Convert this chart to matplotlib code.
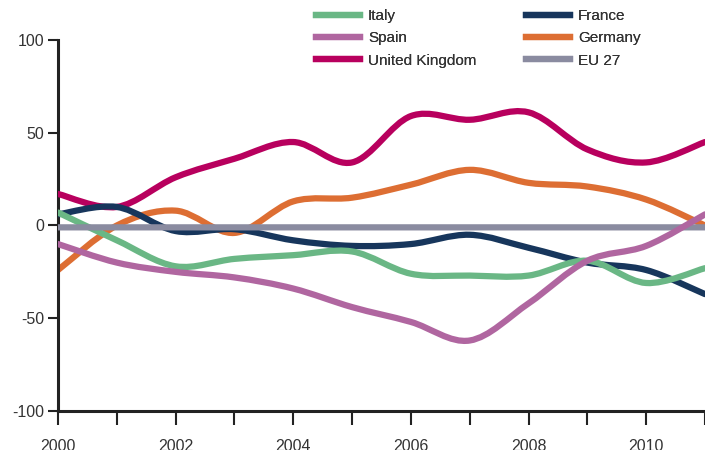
import numpy as np
import matplotlib
matplotlib.use("Agg")
import matplotlib.pyplot as plt
from matplotlib.path import Path
from matplotlib.patches import PathPatch
from matplotlib.lines import Line2D

plt.rcParams['font.family'] = ['Liberation Sans', 'DejaVu Sans']

# Dados
anos = [2000, 2001, 2002, 2003, 2004, 2005, 2006, 2007, 2008, 2009, 2010, 2011]
italy = [7, -8, -22, -18, -16, -14, -26, -27, -27, -19, -31, -23]
spain = [-10, -20, -25, -28, -34, -44, -52, -62, -42, -19, -11, 6]
uk = [17, 10, 26, 36, 45, 34, 59, 57, 61, 41, 34, 45]
france = [6, 10, -3, -2, -8, -11, -10, -5, -12, -20, -24, -37]
germany = [-24, 0, 8, -4, 13, 15, 22, 30, 23, 21, 14, 0]
eu27 = [-1, -1, -1, -1, -1, -1, -1, -1, -1, -1, -1, -1]

series = [
    ('Germany', germany, '#dd6e33'),
    ('United Kingdom', uk, '#b8005e'),
    ('France', france, '#17365c'),
    ('Italy', italy, '#6ab785'),
    ('EU 27', eu27, '#8a8ba0'),
    ('Spain', spain, '#b066a0'),
]
cores = {nome: cor for nome, _, cor in series}


def curva(x, y):
    # Catmull-Rom convertido em Bezier cubica
    x = np.asarray(x, float)
    y = np.asarray(y, float)
    n = len(x)
    verts = [(x[0], y[0])]
    codes = [Path.MOVETO]
    for i in range(n - 1):
        i0 = max(i - 1, 0)
        i3 = min(i + 2, n - 1)
        c1 = (x[i] + (x[i + 1] - x[i0]) / 6, y[i] + (y[i + 1] - y[i0]) / 6)
        c2 = (x[i + 1] - (x[i3] - x[i]) / 6, y[i + 1] - (y[i3] - y[i]) / 6)
        verts += [c1, c2, (x[i + 1], y[i + 1])]
        codes += [Path.CURVE4] * 3
    return Path(verts, codes)


fig = plt.figure(figsize=(7.05, 4.5), dpi=100)
ax = fig.add_axes([0.0823, 0.0867, 0.9177, 0.8244])

for z, (nome, vals, cor) in enumerate(series):
    p = PathPatch(curva(anos, vals), fill=False, edgecolor=cor, lw=4.5,
                  capstyle='round', joinstyle='round', zorder=2 + z)
    ax.add_patch(p)

ax.set_xlim(2000, 2011)
ax.set_ylim(-100, 100)

for s in ['top', 'right']:
    ax.spines[s].set_visible(False)
for s in ['left', 'bottom']:
    ax.spines[s].set_linewidth(2.2)
    ax.spines[s].set_color('#222222')

ax.set_yticks([-100, -50, 0, 50, 100])
ax.set_yticklabels(['-100', '-50', '0', '50', '100'])
ax.set_xticks(anos)
ax.set_xticklabels([str(a) if a % 2 == 0 else '' for a in anos])
ax.tick_params(axis='y', length=7, width=1.5, color='#222222', labelsize=11.5,
               labelcolor='#333333', pad=3)
ax.tick_params(axis='x', length=10, width=1.5, color='#222222', labelsize=11.5,
               labelcolor='#333333', pad=10)

# Legenda em duas colunas
col1 = ['Italy', 'Spain', 'United Kingdom']
col2 = ['France', 'Germany', 'EU 27']
for nomes, xpos in [(col1, 316 / 705), (col2, 526 / 705)]:
    hs = [Line2D([], [], color=cores[n], lw=4.5) for n in nomes]
    leg = fig.legend(hs, nomes, loc='upper left', bbox_to_anchor=(xpos, 0.98),
                     frameon=False, fontsize=11, handlelength=2.9, handletextpad=0.5,
                     labelspacing=0.55, borderpad=0, borderaxespad=0,
                     labelcolor='#333333')
    fig.add_artist(leg)

fig.savefig('out.png', dpi=100)
